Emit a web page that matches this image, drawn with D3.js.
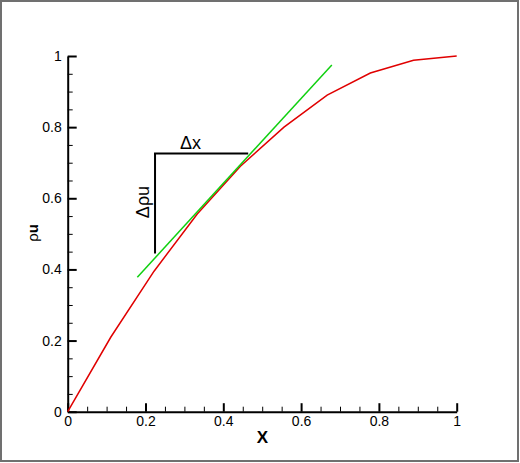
<!DOCTYPE html>
<html><head><meta charset="utf-8">
<script src="https://cdn.jsdelivr.net/npm/d3@7"></script>
<style>
html,body{margin:0;padding:0;background:#fff;}
svg{display:block;font-family:Arial,"Liberation Sans",sans-serif;}
</style></head>
<body>
<svg id="chart" width="520" height="463"></svg>
<script>
// ---- data ----
const xVals = [0, 0.111, 0.222, 0.333, 0.444, 0.556, 0.667, 0.778, 0.889, 1];
const rhoU  = [0, 0.21, 0.395, 0.556, 0.69, 0.80, 0.89, 0.952, 0.988, 1];
const tangentX = [0.179, 0.679];
const tangentY = [0.378, 0.975];
const bracketX = [0.2245, 0.2245, 0.464];
const bracketY = [0.445, 0.726, 0.726];
const xTicks = [0, 0.2, 0.4, 0.6, 0.8, 1];
const xTickLabels = ["0", "0.2", "0.4", "0.6", "0.8", "1"];
const yTicks = [0, 0.2, 0.4, 0.6, 0.8, 1];
const yTickLabels = ["0", "0.2", "0.4", "0.6", "0.8", "1"];
const minorTicks = [0.05,0.1,0.15,0.25,0.3,0.35,0.45,0.5,0.55,0.65,0.7,0.75,0.85,0.9,0.95];

const svg = d3.select("#chart");
// frame
svg.append("rect").attr("x",1).attr("y",1).attr("width",517).attr("height",460)
  .attr("fill","none").attr("stroke","#707070").attr("stroke-width",2);

const x = d3.scaleLinear().domain([0,1]).range([67.7, 456.7]);
const y = d3.scaleLinear().domain([0,1]).range([411.7, 56]);

// minor ticks
svg.append("g").attr("transform",`translate(0,${y(0)})`)
  .call(d3.axisBottom(x).tickValues(minorTicks).tickSizeInner(-5).tickSizeOuter(0).tickFormat(""))
  .call(g=>{g.select(".domain").remove(); g.selectAll("line").attr("stroke","#000").attr("stroke-width",1);});
svg.append("g").attr("transform",`translate(${x(0)},0)`)
  .call(d3.axisLeft(y).tickValues(minorTicks).tickSizeInner(-5).tickSizeOuter(0).tickFormat(""))
  .call(g=>{g.select(".domain").remove(); g.selectAll("line").attr("stroke","#000").attr("stroke-width",1);});

// major axes
const xAxis = svg.append("g").attr("transform",`translate(0,${y(0)})`)
  .call(d3.axisBottom(x).tickValues(xTicks).tickSizeInner(-8.5).tickSizeOuter(0).tickPadding(4)
    .tickFormat((d,i)=>xTickLabels[i]));
const yAxis = svg.append("g").attr("transform",`translate(${x(0)},0)`)
  .call(d3.axisLeft(y).tickValues(yTicks).tickSizeInner(-9).tickSizeOuter(0).tickPadding(6)
    .tickFormat((d,i)=>yTickLabels[i]));
[xAxis,yAxis].forEach(g=>{
  g.select(".domain").attr("stroke","#000").attr("stroke-width",2);
  g.selectAll(".tick line").attr("stroke","#000").attr("stroke-width",2);
  g.selectAll(".tick text").attr("font-size",14).attr("fill","#000")
    .attr("font-family","Arial, 'Liberation Sans', sans-serif");
});

// red curve
const line = d3.line().x(d=>x(d[0])).y(d=>y(d[1]));
svg.append("path").datum(xVals.map((v,i)=>[v,rhoU[i]]))
  .attr("d",line).attr("fill","none").attr("stroke","#e00000").attr("stroke-width",1.5);

// green tangent
svg.append("path").datum(tangentX.map((v,i)=>[v,tangentY[i]]))
  .attr("d",line).attr("fill","none").attr("stroke","#10d010").attr("stroke-width",1.5);

// black bracket
svg.append("path").datum(bracketX.map((v,i)=>[v,bracketY[i]]))
  .attr("d",line).attr("fill","none").attr("stroke","#000").attr("stroke-width",2);

// annotations
svg.append("text").attr("x",190.5).attr("y",148.5).attr("text-anchor","middle")
  .attr("font-size",18).attr("fill","#000").text("Δx");
svg.append("text").attr("transform","translate(149,202) rotate(-90)").attr("text-anchor","middle")
  .attr("font-size",18).attr("fill","#000").text("Δρu");

// axis titles
svg.append("text").attr("x",262.3).attr("y",442.5).attr("text-anchor","middle")
  .attr("font-size",17).attr("font-weight","bold").attr("fill","#000").text("X");
const yl = svg.append("text").attr("transform","translate(38,233) rotate(-90)").attr("text-anchor","middle")
  .attr("font-size",15).attr("fill","#000");
yl.append("tspan").text("ρ");
yl.append("tspan").attr("font-weight","bold").text("u");
</script>
</body></html>
